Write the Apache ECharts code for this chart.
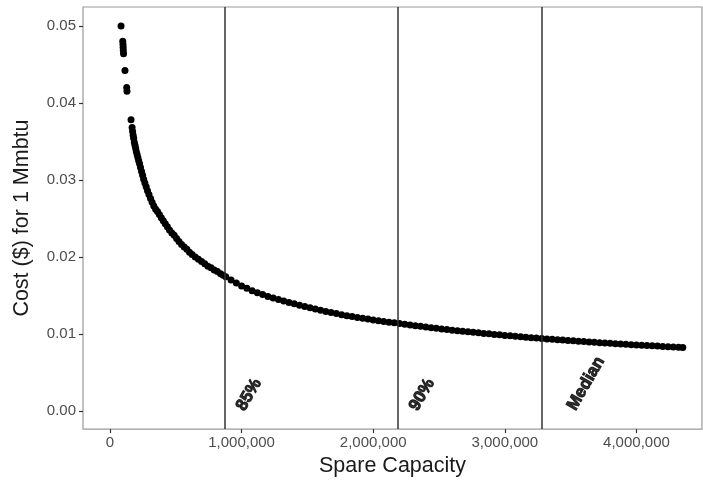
<!DOCTYPE html>
<html>
<head>
<meta charset="utf-8">
<title>Spare Capacity</title>
<script src="https://cdn.jsdelivr.net/npm/echarts@6/dist/echarts.min.js"></script>
<style>
    html, body { margin: 0; padding: 0; background: #fff; }
    #costChart { width: 703px; height: 482px; }
</style>
</head>
<body>
<div id="costChart"></div>
<script>
// spare capacity (x)
var spareCapacity = [
    84000, 97000, 99000, 100000, 101000, 103000, 114000, 127000, 129000, 160000,
    168000, 172000, 176000, 180000, 185000, 190000, 195000, 200000, 206000, 212000,
    218000, 225000, 232000, 240000, 248000, 256000, 265000, 275000, 285000, 296000,
    308000, 320000, 333000, 347000, 361000, 375000, 390000, 405000, 420000, 436000,
    452000, 470000, 488000, 506000, 524000, 544000, 564000, 584000, 604000, 624000,
    648000, 672000, 696000, 720000, 744000, 768000, 792000, 816000, 840000, 860000,
    880000, 920000, 960000, 1000000, 1040000, 1080000, 1120000, 1160000, 1200000, 1240000,
    1280000, 1320000, 1360000, 1400000, 1440000, 1480000, 1520000, 1560000, 1600000, 1640000,
    1680000, 1720000, 1760000, 1800000, 1840000, 1880000, 1920000, 1960000, 2000000, 2040000,
    2080000, 2120000, 2160000, 2200000, 2240000, 2280000, 2320000, 2360000, 2400000, 2440000,
    2480000, 2520000, 2560000, 2600000, 2640000, 2680000, 2720000, 2760000, 2800000, 2840000,
    2880000, 2920000, 2960000, 3000000, 3040000, 3080000, 3120000, 3160000, 3200000, 3240000,
    3280000, 3320000, 3360000, 3400000, 3440000, 3480000, 3520000, 3560000, 3600000, 3640000,
    3680000, 3720000, 3760000, 3800000, 3840000, 3880000, 3920000, 3960000, 4000000, 4040000,
    4080000, 4120000, 4160000, 4200000, 4240000, 4280000, 4320000, 4352000
];
// cost ($) for 1 Mmbtu (y)
var costPerMmbtu = [
    0.0500, 0.0480, 0.0476, 0.0472, 0.0468, 0.0464, 0.0442, 0.0420, 0.0415, 0.0378,
    0.0368, 0.0363, 0.0358, 0.0354, 0.0349, 0.0345, 0.0341, 0.0337, 0.0333, 0.0329,
    0.0325, 0.0321, 0.0316, 0.0311, 0.0306, 0.0301, 0.0296, 0.0291, 0.0286, 0.0281,
    0.0276, 0.0271, 0.0266, 0.0262, 0.0259, 0.0255, 0.0251, 0.0247, 0.0243, 0.0239,
    0.0235, 0.0231, 0.0228, 0.0224, 0.0220, 0.0216, 0.0213, 0.0210, 0.0206, 0.0203,
    0.0200, 0.0197, 0.0194, 0.0191, 0.0188, 0.0186, 0.0183, 0.0181, 0.0178, 0.0176,
    0.01742, 0.01701, 0.01660, 0.01622, 0.01591, 0.01561, 0.01535, 0.01510, 0.01487, 0.01465,
    0.01445, 0.01426, 0.01408, 0.01391, 0.01373, 0.01355, 0.01338, 0.01322, 0.01306, 0.01291,
    0.01277, 0.01263, 0.01250, 0.01237, 0.01225, 0.01214, 0.01203, 0.01192, 0.01181, 0.01171,
    0.01161, 0.01152, 0.01143, 0.01134, 0.01125, 0.01116, 0.01107, 0.01098, 0.01089, 0.01081,
    0.01072, 0.01064, 0.01056, 0.01048, 0.01041, 0.01034, 0.01027, 0.01020, 0.01013, 0.01006,
    0.01000, 0.00993, 0.00987, 0.00980, 0.00974, 0.00968, 0.00963, 0.00957, 0.00951, 0.00946,
    0.00940, 0.00935, 0.00929, 0.00924, 0.00919, 0.00914, 0.00910, 0.00905, 0.00900, 0.00895,
    0.00891, 0.00886, 0.00882, 0.00877, 0.00873, 0.00869, 0.00864, 0.00860, 0.00856, 0.00852,
    0.00848, 0.00845, 0.00841, 0.00837, 0.00833, 0.00830, 0.00826, 0.00823
];
// vertical reference lines
var refNames = ["85%", "90%", "Median"];
var refValues = [874000, 2188000, 3283000];
// where the rotated labels sit
var refLabelX = [1056000, 2371000, 3617000];
var refLabelY = [0.0021, 0.0021, 0.00355];
// tick labels
var xTicks = [0, 1000000, 2000000, 3000000, 4000000];
var yTicks = [0, 0.01, 0.02, 0.03, 0.04, 0.05];

var points = [];
for (var i = 0; i < spareCapacity.length; i++) {
    points.push([spareCapacity[i], costPerMmbtu[i]]);
}
var lineData = [];
var labelData = [];
for (var j = 0; j < refValues.length; j++) {
    lineData.push({ xAxis: refValues[j] });
    labelData.push({ name: refNames[j], value: [refLabelX[j], refLabelY[j]] });
}

function withCommas(v) {
    return String(v).replace(/\B(?=(\d{3})+(?!\d))/g, ",");
}

var fontFam = '"Liberation Sans", Arial, Helvetica, sans-serif';
var chart = echarts.init(document.getElementById('costChart'), null, { renderer: 'canvas' });
chart.setOption({
    animation: false,
    backgroundColor: '#ffffff',
    grid: {
        left: 83, right: 1, top: 7, bottom: 51,
        show: true,
        borderColor: '#9a9a9a',
        borderWidth: 1.2
    },
    xAxis: {
        type: 'value',
        min: -205000,
        max: 4498000,
        name: 'Spare Capacity',
        nameLocation: 'middle',
        nameGap: 25,
        nameTextStyle: { fontSize: 21.5, color: '#1a1a1a', fontFamily: fontFam },
        axisLine: { show: false, onZero: false },
        splitLine: { show: false },
        axisTick: { show: true, length: 4, customValues: xTicks, lineStyle: { color: '#333', width: 1.2 } },
        axisLabel: {
            customValues: xTicks,
            fontSize: 15, color: '#4d4d4d', fontFamily: fontFam, margin: 6,
            formatter: function (v) { return withCommas(v); }
        }
    },
    yAxis: {
        type: 'value',
        min: -0.00237,
        max: 0.05246,
        name: 'Cost ($) for 1 Mmbtu',
        nameLocation: 'middle',
        nameGap: 50,
        nameTextStyle: { fontSize: 21.5, color: '#1a1a1a', fontFamily: fontFam },
        axisLine: { show: false, onZero: false },
        splitLine: { show: false },
        axisTick: { show: true, length: 4, customValues: yTicks, lineStyle: { color: '#333', width: 1.2 } },
        axisLabel: {
            customValues: yTicks,
            fontSize: 15, color: '#4d4d4d', fontFamily: fontFam, margin: 7,
            formatter: function (v) { return v.toFixed(2); }
        }
    },
    series: [
        {
            type: 'scatter',
            data: points,
            symbolSize: 7,
            itemStyle: { color: '#000000', opacity: 1 },
            silent: true,
            markLine: {
                silent: true,
                symbol: 'none',
                label: { show: false },
                lineStyle: { color: '#333333', width: 1.5, type: 'solid' },
                data: lineData
            }
        },
        {
            // 85% / 90% / Median labels
            type: 'scatter',
            data: labelData,
            symbolSize: 1,
            itemStyle: { color: 'rgba(0,0,0,0)' },
            silent: true,
            label: {
                show: true,
                position: 'inside',
                rotate: 60,
                formatter: '{b}',
                fontSize: 17,
                fontWeight: 'bold',
                color: '#000',
                textBorderColor: '#000',
                textBorderWidth: 1,
                fontFamily: fontFam
            }
        }
    ]
});
</script>
</body>
</html>
